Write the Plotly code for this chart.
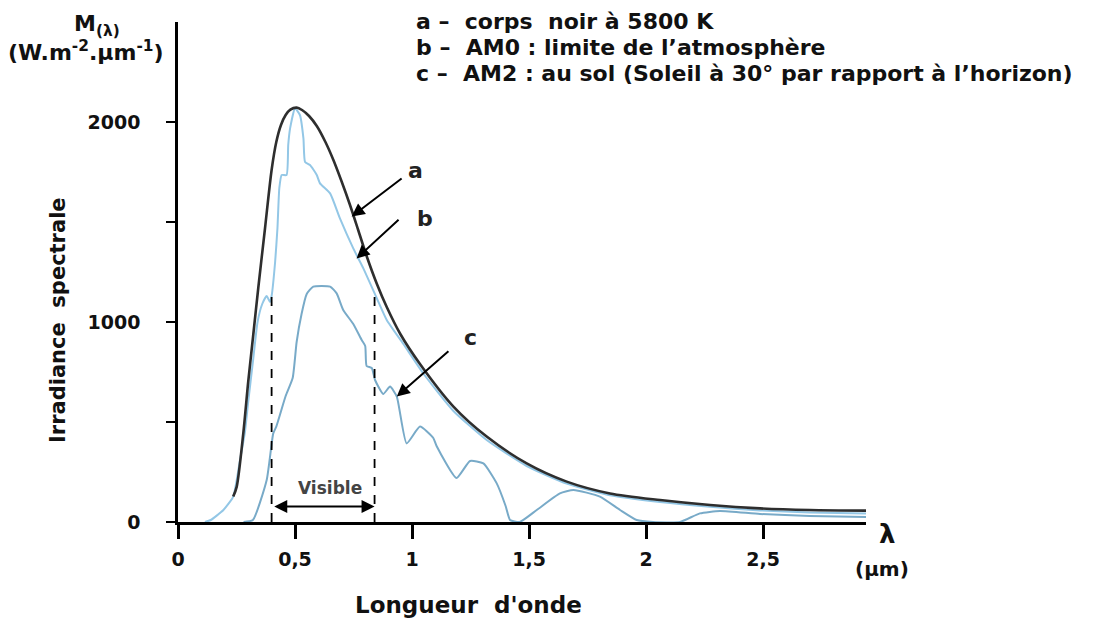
import plotly.graph_objects as go

# ---- data ----
a_lam = [0.236, 0.251, 0.279, 0.300, 0.322, 0.343, 0.372, 0.400, 0.420, 0.440, 0.460, 0.480,
         0.507, 0.530, 0.560, 0.593, 0.630, 0.664, 0.700, 0.735, 0.770, 0.806, 0.850, 0.892,
         0.950, 1.034, 1.177, 1.319, 1.49, 1.661, 1.846, 2.06, 2.274, 2.487, 2.70, 2.94]
a_M = [127, 177, 443, 700, 940, 1170, 1470, 1760, 1900, 1985, 2035, 2062,
       2072, 2060, 2030, 1980, 1900, 1810, 1700, 1585, 1460, 1330, 1190, 1075,
       940, 790, 577, 427, 293, 202, 143, 110, 85, 68, 60, 57]

b_lam = [0.115, 0.14, 0.194, 0.236, 0.265, 0.286, 0.300, 0.320, 0.340, 0.360, 0.379, 0.393,
         0.400, 0.415, 0.425, 0.433, 0.443, 0.464, 0.471, 0.479, 0.500, 0.521, 0.536, 0.543,
         0.564, 0.593, 0.607, 0.650, 0.692, 0.749, 0.792, 0.849, 0.892, 0.963, 1.05, 1.177,
         1.319, 1.49, 1.661, 1.846, 2.06, 2.274, 2.487, 2.70, 2.94]
b_M = [0, 10, 60, 127, 310, 450, 600, 800, 1000, 1090, 1130, 1100,
       1130, 1300, 1470, 1670, 1735, 1735, 1885, 1968, 2068, 2035, 1918, 1800,
       1785, 1735, 1693, 1643, 1518, 1368, 1268, 1120, 1010, 890, 740, 555,
       410, 280, 192, 134, 100, 76, 58, 48, 42]

c_lam = [0.28, 0.32, 0.379, 0.407, 0.42, 0.46, 0.49, 0.507, 0.528, 0.55, 0.578, 0.65,
         0.678, 0.706, 0.749, 0.785, 0.80, 0.806, 0.828, 0.842, 0.877, 0.906, 0.935, 0.977,
         1.034, 1.091, 1.105, 1.19, 1.248, 1.305, 1.362, 1.40, 1.419, 1.46, 1.533, 1.632,
         1.69, 1.803, 1.889, 1.96, 2.03, 2.145, 2.23, 2.316, 2.487, 2.70, 2.94]
c_M = [0, 10, 210, 443, 477, 630, 720, 900, 1040, 1140, 1177, 1177,
       1143, 1060, 990, 910, 880, 780, 770, 710, 640, 677, 627, 393,
       477, 420, 380, 220, 305, 293, 193, 80, 10, 0, 60, 143,
       160, 127, 60, 10, 0, 0, 43, 55, 40, 30, 25]

visible_bounds = [0.40, 0.84]
visible_top = 1127
visible_arrow_M = 77

x_ticks = [0, 0.5, 1, 1.5, 2, 2.5]
x_tick_text = ["0", "0,5", "1", "1,5", "2", "2,5"]
y_ticks = [0, 500, 1000, 1500, 2000]
y_tick_text = ["0", "", "1000", "", "2000"]

legend_lines = ["a \u2013  corps  noir \u00e0 5800 K",
                "b \u2013  AM0 : limite de l\u2019atmosph\u00e8re",
                "c \u2013  AM2 : au sol (Soleil \u00e0 30\u00b0 par rapport \u00e0 l\u2019horizon)"]

# arrows: (label, label_x, label_y, tail_x, tail_y, head_x, head_y)
arrows = [("a", 1.017, 1760, 0.962, 1723, 0.742, 1527),
          ("b", 1.056, 1520, 0.949, 1518, 0.763, 1318),
          ("c", 1.248, 925, 1.162, 860, 0.935, 627)]

FONT = "DejaVu Sans, sans-serif"

# plot-area geometry (pixels in the page)
PL, PT, PW, PH = 178, 22, 688, 500
BODY = 8  # default page margin of the html body


def px(x):
    return (x - PL) / PW


def py(y):
    return (PT + PH - y) / PH


fig = go.Figure()
fig.add_trace(go.Scatter(x=c_lam, y=c_M, mode="lines", line=dict(color="#78aac8", width=2, shape="spline", smoothing=0.5), hoverinfo="skip"))
fig.add_trace(go.Scatter(x=b_lam, y=b_M, mode="lines", line=dict(color="#93c7e6", width=2, shape="spline", smoothing=0.5), hoverinfo="skip"))
fig.add_trace(go.Scatter(x=a_lam, y=a_M, mode="lines", line=dict(color="#2e2e2e", width=2.6, shape="spline", smoothing=0.8), hoverinfo="skip"))
for vb in visible_bounds:
    fig.add_trace(go.Scatter(x=[vb, vb], y=[0, visible_top], mode="lines",
                             line=dict(color="black", width=1.8, dash="dash"), hoverinfo="skip"))

ann = []
ann.append(dict(x=visible_bounds[1], y=visible_arrow_M, ax=visible_bounds[0] + 0.005, ay=visible_arrow_M,
                xref="x", yref="y", axref="x", ayref="y", showarrow=True, arrowhead=2, arrowsize=1.3,
                arrowwidth=2, arrowside="end+start", arrowcolor="black", text=""))
ann.append(dict(x=0.65, y=170, xref="x", yref="y", showarrow=False, xanchor="center", yanchor="middle",
                text="<b>Visible</b>", font=dict(family=FONT, size=17, color="#444")))
for lab, lx, ly, tx, ty, hx, hy in arrows:
    ann.append(dict(x=hx, y=hy, ax=tx, ay=ty, xref="x", yref="y", axref="x", ayref="y",
                    showarrow=True, arrowhead=2, arrowsize=1.3, arrowwidth=2, arrowcolor="black", text=""))
    ann.append(dict(x=lx, y=ly, xref="x", yref="y", showarrow=False, xanchor="center", yanchor="middle",
                    text="<b>%s</b>" % lab, font=dict(family=FONT, size=22, color="#222")))
for i, t in enumerate(legend_lines):
    ann.append(dict(x=px(414), y=py(21 + i * 26), xref="paper", yref="paper", xanchor="left", yanchor="middle",
                    showarrow=False, text="<b>%s</b>" % t, font=dict(family=FONT, size=22, color="#111")))


def label(text, x, y, size, angle=0, anchor="center"):
    ann.append(dict(x=px(x), y=py(y), xref="paper", yref="paper", xanchor=anchor, yanchor="middle",
                    showarrow=False, textangle=angle, text=text, font=dict(family=FONT, size=size, color="#111")))


label("<b>M<sub>(\u03bb)</sub></b>", 72, 25, 22, anchor="left")
label("<b>(W.m<sup>-2</sup>.\u00b5m<sup>-1</sup>)</b>", 6, 51, 22, anchor="left")
label("<b>Irradiance  spectrale</b>", 58, 320, 21, angle=-90)
label("<b>Longueur  d'onde</b>", 468, 605, 23)
label("<b>\u03bb</b>", 887, 534, 26)
label("<b>(\u00b5m)</b>", 882, 569, 20)

fig.update_layout(
    width=1097, height=619,
    margin=dict(l=PL - BODY, r=1097 - (PL - BODY) - PW, t=PT - BODY, b=619 - (PT - BODY) - PH),
    paper_bgcolor="white", plot_bgcolor="white",
    showlegend=False,
    annotations=ann,
    xaxis=dict(range=[0, 2.94], showgrid=False, zeroline=False, showline=True, linecolor="black", linewidth=2.5,
               ticks="outside", ticklen=14, tickwidth=2.5, tickcolor="black",
               tickvals=x_ticks, ticktext=x_tick_text, ticklabelstandoff=4,
               tickfont=dict(family=FONT, size=19, color="#111", weight="bold")),
    yaxis=dict(range=[0, 2500], showgrid=False, zeroline=False, showline=True, linecolor="black", linewidth=2.5,
               ticks="outside", ticklen=9, tickwidth=2, tickcolor="black",
               tickvals=y_ticks, ticktext=y_tick_text, ticklabelstandoff=22,
               tickfont=dict(family=FONT, size=19, color="#111", weight="bold")),
)

fig.write_html("out.html")
